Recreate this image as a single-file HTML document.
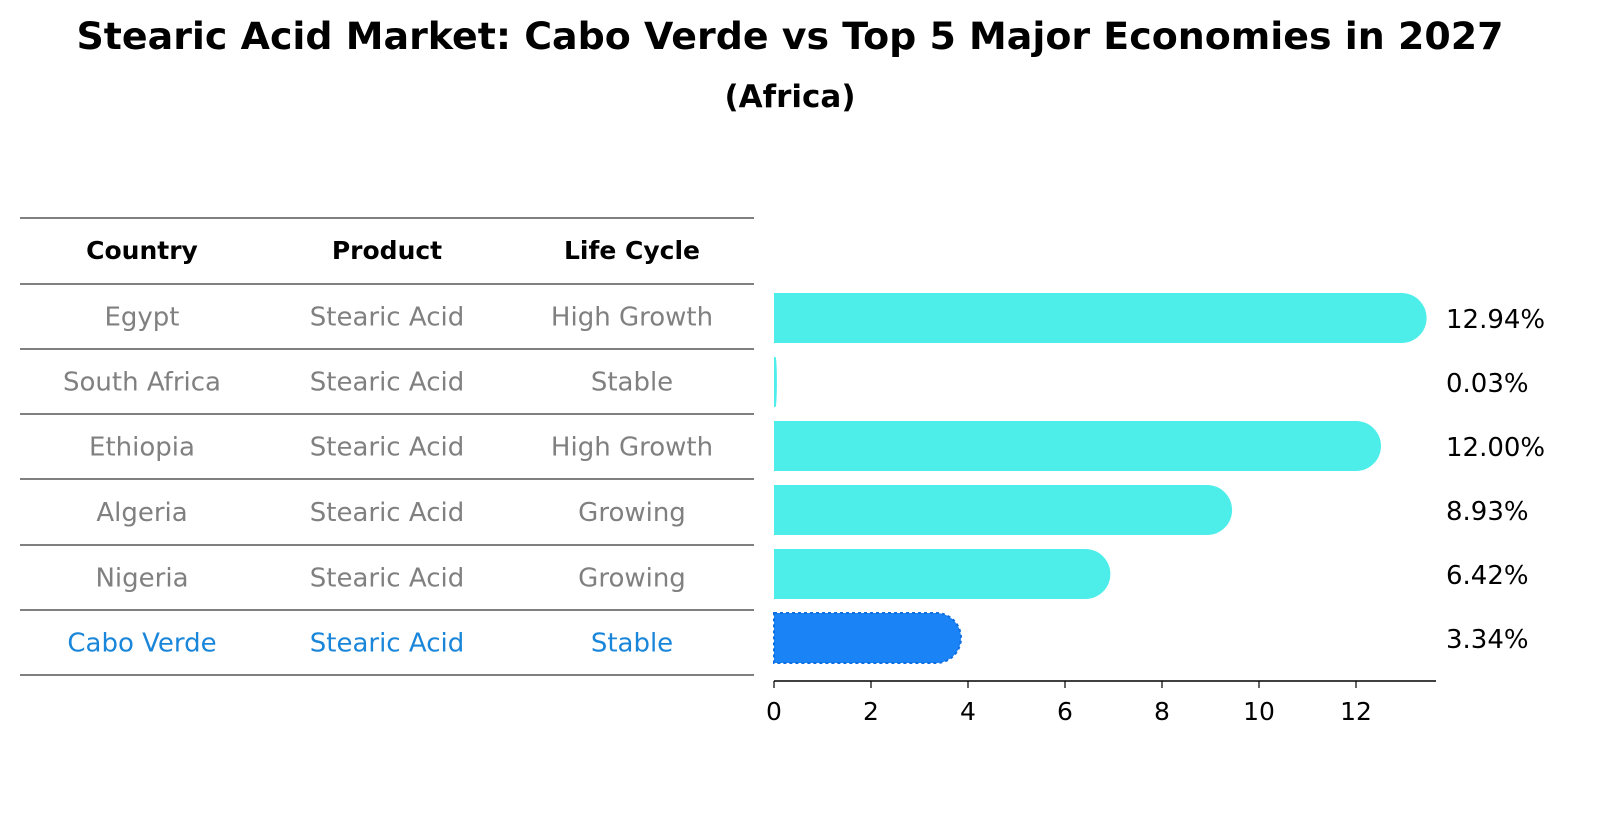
<!DOCTYPE html>
<html><head><meta charset="utf-8"><style>
body{margin:0;background:#fff;font-family:"Liberation Sans","DejaVu Sans",sans-serif}
svg text{font-family:"DejaVu Sans","Liberation Sans",sans-serif}
</style></head><body>
<svg id="chart" width="1604" height="823" viewBox="0 0 1604 823">
<text x="790" y="49" text-anchor="middle" font-size="37" font-weight="bold" textLength="1427" lengthAdjust="spacingAndGlyphs">Stearic Acid Market: Cabo Verde vs Top 5 Major Economies in 2027</text>
<text x="790" y="107" text-anchor="middle" font-size="31" font-weight="bold">(Africa)</text>
<g id="table"></g>
<g id="bars"></g>
</svg>
<script>
const countries=["Egypt","South Africa","Ethiopia","Algeria","Nigeria","Cabo Verde"];
const products=["Stearic Acid","Stearic Acid","Stearic Acid","Stearic Acid","Stearic Acid","Stearic Acid"];
const lifeCycles=["High Growth","Stable","High Growth","Growing","Growing","Stable"];
const values=[12.94,0.03,12.00,8.93,6.42,3.34];
const valueLabels=["12.94%","0.03%","12.00%","8.93%","6.42%","3.34%"];
const ticks=[0,2,4,6,8,10,12];
const highlight="Cabo Verde";

const NS="http://www.w3.org/2000/svg";
function mk(tag,attrs,parent){const e=document.createElementNS(NS,tag);for(const k in attrs)e.setAttribute(k,attrs[k]);parent.appendChild(e);return e;}
const x0=774,pxPerUnit=48.5;
const xs=v=>x0+v*pxPerUnit;
const rowY=i=>318+i*64;

const tbl=document.getElementById('table');
const lineYs=[218,284,349,414,479,545,610,675];
lineYs.forEach((y,i)=>{const l=mk('line',{x1:20,x2:754,y1:y,y2:y,stroke:'#000','stroke-width':1},tbl);

});
const colX=[142,387,632];
["Country","Product","Life Cycle"].forEach((h,j)=>{const t=mk('text',{x:colX[j],y:259,'text-anchor':'middle','font-size':25,'font-weight':'bold'},tbl);t.textContent=h;

});
countries.forEach((c,i)=>{
 const col=c===highlight?'#1a86d9':'#808080';
 [c,products[i],lifeCycles[i]].forEach((v,j)=>{
  const t=mk('text',{x:colX[j],y:(lineYs[i+1]+lineYs[i+2])/2+9,'text-anchor':'middle','font-size':26,fill:col},tbl);t.textContent=v;
  
  
 });
});

const g=document.getElementById('bars');
values.forEach((v,i)=>{
 const yc=rowY(i),h=50,r=Math.min(25,v*pxPerUnit);
 const xe=xs(v);
 const hl=countries[i]===highlight;
 const d=`M${x0},${yc-h/2} H${xe} A${r},${h/2} 0 0 1 ${xe},${yc+h/2} H${x0} Z`;
 const p=mk('path',{d:d,fill:hl?'#1a83f5':'#4deeea',stroke:hl?'#0f6ee0':'none','stroke-width':hl?2:0,'stroke-dasharray':hl?'3 3':''},g);
 
 
 const t=mk('text',{x:1446,y:yc+10,'font-size':26},g);t.textContent=valueLabels[i];
 
 
});
const ax=mk('line',{x1:x0,x2:1436,y1:681,y2:681,stroke:'#000','stroke-width':1.5},g);


ticks.forEach(tv=>{
 const tl=mk('line',{x1:xs(tv),x2:xs(tv),y1:681,y2:688,stroke:'#000','stroke-width':1.2},g);
 
 
 const t=mk('text',{x:xs(tv),y:720,'text-anchor':'middle','font-size':25},g);t.textContent=tv;
 
 
});
</script>
</body></html>
